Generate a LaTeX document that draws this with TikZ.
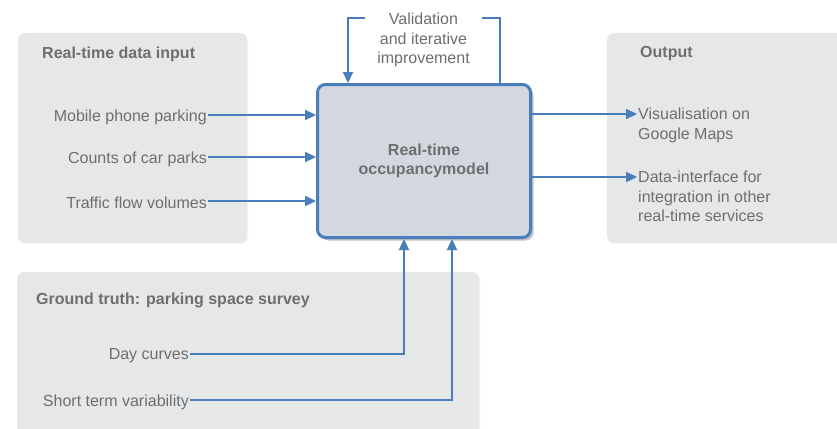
\documentclass[tikz,border=0pt]{standalone}
\usepackage{fontspec}
\setmainfont{Liberation Sans}
\usetikzlibrary{arrows.meta,shadows}
\definecolor{lineblue}{HTML}{4A7EBB}
\definecolor{panelgray}{HTML}{E6E7E9}
\definecolor{textgray}{HTML}{6E6E6E}
\definecolor{modelfill}{HTML}{D3D8E0}
\tikzset{
  panel/.style={fill=panelgray, rounded corners=7pt,
    drop shadow={shadow xshift=1pt, shadow yshift=-1pt, opacity=0.08}},
  heading/.style={anchor=west, inner sep=0pt, font=\fontsize{16}{19}\selectfont\bfseries},
  label/.style={inner sep=1pt, align=left, font=\fontsize{16}{19.5}\selectfont},
  link/.style={draw=lineblue, line width=2.2pt},
  flow/.style={link, -{Triangle[length=11pt,width=10pt]}},
  model/.style={draw=lineblue, line width=3pt, fill=modelfill, rounded corners=8pt,
    align=center, font=\fontsize{16}{19}\selectfont\bfseries,
    drop shadow={shadow xshift=3pt, shadow yshift=-3pt, opacity=0.4, fill=black!60}}
}
\begin{document}
\begin{tikzpicture}[x=1pt,y=-1pt,text=textgray]
\useasboundingbox (0,0) rectangle (837,428);
\fill[white] (0,0) rectangle (837,428);

% grey panels
\path[panel] (18,33) rectangle (247,243);
\path[panel] (607,33) rectangle (850,243);
\path[panel] (17,272) rectangle (479,440);
\node[heading] (inhead) at (42,54) {Real-time data input};
\node[heading] (outhead) at (640,54) {Output};
\node[heading] (truthhead) at (36,300) {Ground truth: parking space survey};

% model
\node[model, minimum width=213, minimum height=153] (model) at (424,161)
  {Real-time\\occupancymodel};

% inputs
\node[label, anchor=east] (mobile) at (208,117) {Mobile phone parking};
\node[label, anchor=east] (counts) at (208,159) {Counts of car parks};
\node[label, anchor=east] (traffic) at (208,203) {Traffic flow volumes};
\foreach \n in {mobile,counts,traffic}{
  \coordinate (\n out) at ([yshift=2pt]\n.east);
  \draw[flow] (\n out) -- (\n out -| model.west);
}

% outputs
\node[label, anchor=north west] (maps) at (637,107) {Visualisation on\\Google Maps};
\node[label, anchor=north west] (iface) at (637,170) {Data-interface for\\integration in other\\real-time services};
\draw[flow] (model.east |- 0,114) -- (maps.west |- 0,114);
\draw[flow] (model.east |- 0,177) -- (iface.west |- 0,177);

% feedback loop
\node[label, align=center, inner xsep=12pt] (valid) at (423.5,40)
  {Validation\\and iterative\\improvement};
\coordinate (loopout) at (500,18);
\coordinate (loopin) at (348,18);
\draw[link] (loopout |- model.north) -- (loopout) -- (valid.east |- loopout);
\draw[flow] (valid.west |- loopin) -- (loopin) -- (loopin |- model.north);

% ground truth
\node[label, anchor=east] (day) at (190,356) {Day curves};
\node[label, anchor=east] (short) at (190,402) {Short term variability};
\draw[flow] ([yshift=2pt]day.east) -| ([xshift=-20]model.south);
\draw[flow] ([yshift=2pt]short.east) -| ([xshift=28]model.south);
\end{tikzpicture}
\end{document}
